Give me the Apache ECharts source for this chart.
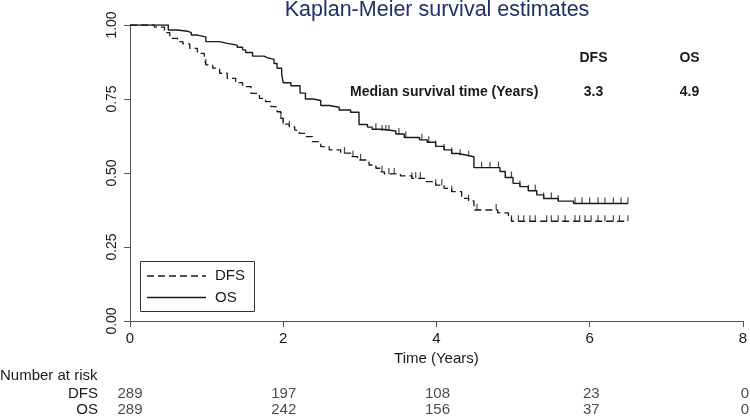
<!DOCTYPE html>
<html>
<head>
<meta charset="utf-8">
<script src="https://cdn.jsdelivr.net/npm/echarts@6/dist/echarts.min.js"></script>
<style>
html,body{margin:0;padding:0;background:#fff;}
#chart{width:750px;height:418px;}
</style>
</head>
<body>
<div id="chart"></div>
<script>
// ---------- data ----------
const titleText = 'Kaplan-Meier survival estimates';
const seriesNames = ['DFS', 'OS'];
const medianLabel = 'Median survival time (Years)';
const medianValues = ['3.3', '4.9'];

// DFS Kaplan-Meier steps (time in years, survival after the step)
const dfsTime = [0, 0.32, 0.45, 0.52, 0.62, 0.69, 0.78, 0.88, 0.97, 0.99, 1.08, 1.17, 1.27, 1.38, 1.47, 1.58, 1.69, 1.77, 1.84, 1.92, 1.97, 2.00, 2.08, 2.15, 2.21, 2.30, 2.38, 2.49, 2.60, 2.75, 2.88, 2.97, 3.12, 3.21, 3.27, 3.32, 3.53, 3.68, 3.86, 3.99, 4.10, 4.20, 4.33, 4.42, 4.49, 4.80, 4.94, 4.98, 6.50];
const dfsSurv = [1.000, 0.993, 0.974, 0.955, 0.944, 0.936, 0.921, 0.904, 0.893, 0.865, 0.854, 0.837, 0.820, 0.805, 0.792, 0.769, 0.752, 0.741, 0.724, 0.707, 0.685, 0.665, 0.656, 0.645, 0.634, 0.623, 0.606, 0.589, 0.578, 0.567, 0.555, 0.544, 0.527, 0.516, 0.504, 0.497, 0.490, 0.482, 0.471, 0.459, 0.448, 0.437, 0.414, 0.406, 0.375, 0.365, 0.350, 0.337, 0.337];
const dfsCensor = [0.99, 1.97, 2.00, 2.08, 2.80, 2.91, 3.01, 3.29, 3.38, 3.45, 3.68, 3.73, 3.79, 3.99, 4.07, 4.20, 4.42, 4.53, 4.78, 4.98, 5.07, 5.14, 5.22, 5.29, 5.44, 5.50, 5.59, 5.68, 5.81, 5.87, 5.94, 6.02, 6.11, 6.20, 6.31, 6.39, 6.50];

// OS Kaplan-Meier steps
const osTime = [0, 0.50, 0.62, 0.75, 0.80, 0.88, 0.99, 1.17, 1.27, 1.40, 1.47, 1.51, 1.60, 1.75, 1.79, 1.88, 1.92, 1.98, 2.00, 2.10, 2.22, 2.29, 2.39, 2.49, 2.60, 2.73, 2.88, 2.99, 3.10, 3.16, 3.29, 3.47, 3.58, 3.78, 3.88, 3.99, 4.10, 4.20, 4.28, 4.40, 4.49, 4.83, 4.90, 5.00, 5.09, 5.20, 5.31, 5.40, 5.59, 5.79, 6.50];
const osSurv = [1.000, 0.983, 0.979, 0.974, 0.966, 0.960, 0.944, 0.938, 0.932, 0.925, 0.916, 0.907, 0.895, 0.890, 0.884, 0.870, 0.854, 0.834, 0.805, 0.795, 0.770, 0.750, 0.745, 0.728, 0.722, 0.713, 0.705, 0.664, 0.655, 0.648, 0.642, 0.632, 0.620, 0.612, 0.604, 0.590, 0.578, 0.566, 0.560, 0.555, 0.518, 0.505, 0.485, 0.465, 0.454, 0.440, 0.426, 0.414, 0.405, 0.397, 0.397];
const osCensor = [3.21, 3.29, 3.34, 3.38, 3.51, 3.60, 3.81, 3.90, 3.99, 4.10, 4.20, 4.31, 4.42, 4.59, 4.70, 4.81, 4.90, 4.98, 5.09, 5.20, 5.29, 5.40, 5.50, 5.59, 5.81, 5.90, 6.00, 6.11, 6.20, 6.31, 6.41, 6.50];

// Number at risk table
const riskRows = ['OS', 'DFS'];
const riskTimes = [0, 2, 4, 6, 8];
const dfsRisk = [289, 197, 108, 23, 0];
const osRisk = [289, 242, 156, 37, 0];

// axis ticks
const xTickStep = 2, xMin = 0, xMax = 8;
const yTickStep = 0.25, yMin = 0, yMax = 1;

// ---------- helpers ----------
const FONT = '"Liberation Sans", Arial, Helvetica, sans-serif';
const INK = '#1a1a1a';
function zip(a, b) { return a.map((v, i) => [v, b[i]]); }
function survAt(times, surv, t) {
  let s = surv[0];
  for (let i = 0; i < times.length; i++) { if (times[i] <= t + 1e-9) s = surv[i]; }
  return s;
}
const dfsMarks = dfsCensor.map(t => [t, survAt(dfsTime, dfsSurv, t)]);
const osMarks = osCensor.map(t => [t, survAt(osTime, osSurv, t)]);
const riskData = [];
riskTimes.forEach((t, i) => {
  riskData.push([t, 'DFS', dfsRisk[i]]);
  riskData.push([t, 'OS', osRisk[i]]);
});

const chart = echarts.init(document.getElementById('chart'), null, { renderer: 'canvas' });
const option = {
  animation: false,
  backgroundColor: '#ffffff',
  textStyle: { fontFamily: FONT },
  grid: [
    { left: 130, right: 5, top: 25, bottom: 97, containLabel: false },
    { left: 130, right: 5, top: 386, height: 37, containLabel: false }
  ],
  xAxis: [
    {
      type: 'value', gridIndex: 0, min: xMin, max: xMax, interval: xTickStep,
      name: 'Time (Years)', nameLocation: 'middle', nameGap: 25,
      nameTextStyle: { fontFamily: FONT, fontSize: 15, color: INK },
      axisLine: { show: true, lineStyle: { color: '#555', width: 1 } },
      axisTick: { show: true, length: 6, inside: false, lineStyle: { color: '#555' } },
      axisLabel: { fontFamily: FONT, fontSize: 15, color: INK, margin: 10 },
      splitLine: { show: false }
    },
    {
      type: 'value', gridIndex: 1, min: xMin, max: xMax, interval: xTickStep, show: false
    }
  ],
  yAxis: [
    {
      type: 'value', gridIndex: 0, min: yMin, max: yMax, interval: yTickStep,
      axisLine: { show: true, lineStyle: { color: '#555', width: 1 } },
      axisTick: { show: true, length: 6, inside: false, lineStyle: { color: '#555' } },
      axisLabel: { fontFamily: FONT, fontSize: 14, color: INK, rotate: 90, margin: 11,
        formatter: v => v.toFixed(2) },
      splitLine: { show: false }
    },
    {
      type: 'category', gridIndex: 1, data: riskRows,
      axisLine: { show: false }, axisTick: { show: false }, splitLine: { show: false },
      axisLabel: { fontFamily: FONT, fontSize: 15, color: INK, margin: 32, interval: 0 }
    }
  ],
  series: [
    {
      name: 'DFS', type: 'line', xAxisIndex: 0, yAxisIndex: 0, step: 'end',
      data: zip(dfsTime, dfsSurv), showSymbol: false, symbol: 'none',
      lineStyle: { color: INK, width: 1.3, type: [7, 4] }, z: 3
    },
    {
      name: 'OS', type: 'line', xAxisIndex: 0, yAxisIndex: 0, step: 'end',
      data: zip(osTime, osSurv), showSymbol: false, symbol: 'none',
      lineStyle: { color: INK, width: 1.4, type: 'solid' }, z: 3
    },
    {
      name: 'DFS censored', type: 'scatter', xAxisIndex: 0, yAxisIndex: 0,
      data: dfsMarks, symbol: 'rect', symbolSize: [1.2, 6], symbolOffset: [0, -3],
      itemStyle: { color: INK }, z: 4, silent: true
    },
    {
      name: 'OS censored', type: 'scatter', xAxisIndex: 0, yAxisIndex: 0,
      data: osMarks, symbol: 'rect', symbolSize: [1.2, 6], symbolOffset: [0, -3],
      itemStyle: { color: INK }, z: 4, silent: true
    },
    {
      name: 'Number at risk', type: 'scatter', xAxisIndex: 1, yAxisIndex: 1,
      data: riskData, symbolSize: 1, itemStyle: { color: 'rgba(0,0,0,0)' },
      label: { show: true, position: 'inside', formatter: p => String(p.value[2]),
        fontFamily: FONT, fontSize: 15, color: INK },
      labelLayout: { hideOverlap: false }, silent: true
    }
  ],
  graphic: [
    { type: 'text', x: 437, y: 10, silent: true,
      style: { text: titleText, font: '21.5px ' + FONT, fill: '#1f2f6b', textAlign: 'center', textVerticalAlign: 'middle' } },
    { type: 'text', x: 593.5, y: 58, silent: true,
      style: { text: seriesNames[0], font: 'bold 14px ' + FONT, fill: INK, textAlign: 'center', textVerticalAlign: 'middle' } },
    { type: 'text', x: 689.5, y: 58, silent: true,
      style: { text: seriesNames[1], font: 'bold 14px ' + FONT, fill: INK, textAlign: 'center', textVerticalAlign: 'middle' } },
    { type: 'text', x: 350, y: 92, silent: true,
      style: { text: medianLabel, font: 'bold 14px ' + FONT, fill: INK, textAlign: 'left', textVerticalAlign: 'middle' } },
    { type: 'text', x: 593.5, y: 92, silent: true,
      style: { text: medianValues[0], font: 'bold 14px ' + FONT, fill: INK, textAlign: 'center', textVerticalAlign: 'middle' } },
    { type: 'text', x: 689.5, y: 92, silent: true,
      style: { text: medianValues[1], font: 'bold 14px ' + FONT, fill: INK, textAlign: 'center', textVerticalAlign: 'middle' } },
    // legend box
    { type: 'rect', silent: true, z: 10,
      shape: { x: 140.5, y: 261.5, width: 114, height: 50 },
      style: { fill: '#ffffff', stroke: '#333', lineWidth: 1 } },
    { type: 'line', silent: true, z: 11,
      shape: { x1: 147, y1: 276, x2: 206, y2: 276 },
      style: { stroke: INK, lineWidth: 1.3, lineDash: [7, 4] } },
    { type: 'text', x: 215, y: 276, silent: true, z: 11,
      style: { text: seriesNames[0], font: '15px ' + FONT, fill: INK, textAlign: 'left', textVerticalAlign: 'middle' } },
    { type: 'line', silent: true, z: 11,
      shape: { x1: 147, y1: 297.5, x2: 206, y2: 297.5 },
      style: { stroke: INK, lineWidth: 1.4 } },
    { type: 'text', x: 215, y: 297.5, silent: true, z: 11,
      style: { text: seriesNames[1], font: '15px ' + FONT, fill: INK, textAlign: 'left', textVerticalAlign: 'middle' } },
    // number at risk heading
    { type: 'text', x: 0, y: 376, silent: true,
      style: { text: 'Number at risk', font: '15px ' + FONT, fill: INK, textAlign: 'left', textVerticalAlign: 'middle' } }
  ]
};
chart.setOption(option);
</script>
</body>
</html>
